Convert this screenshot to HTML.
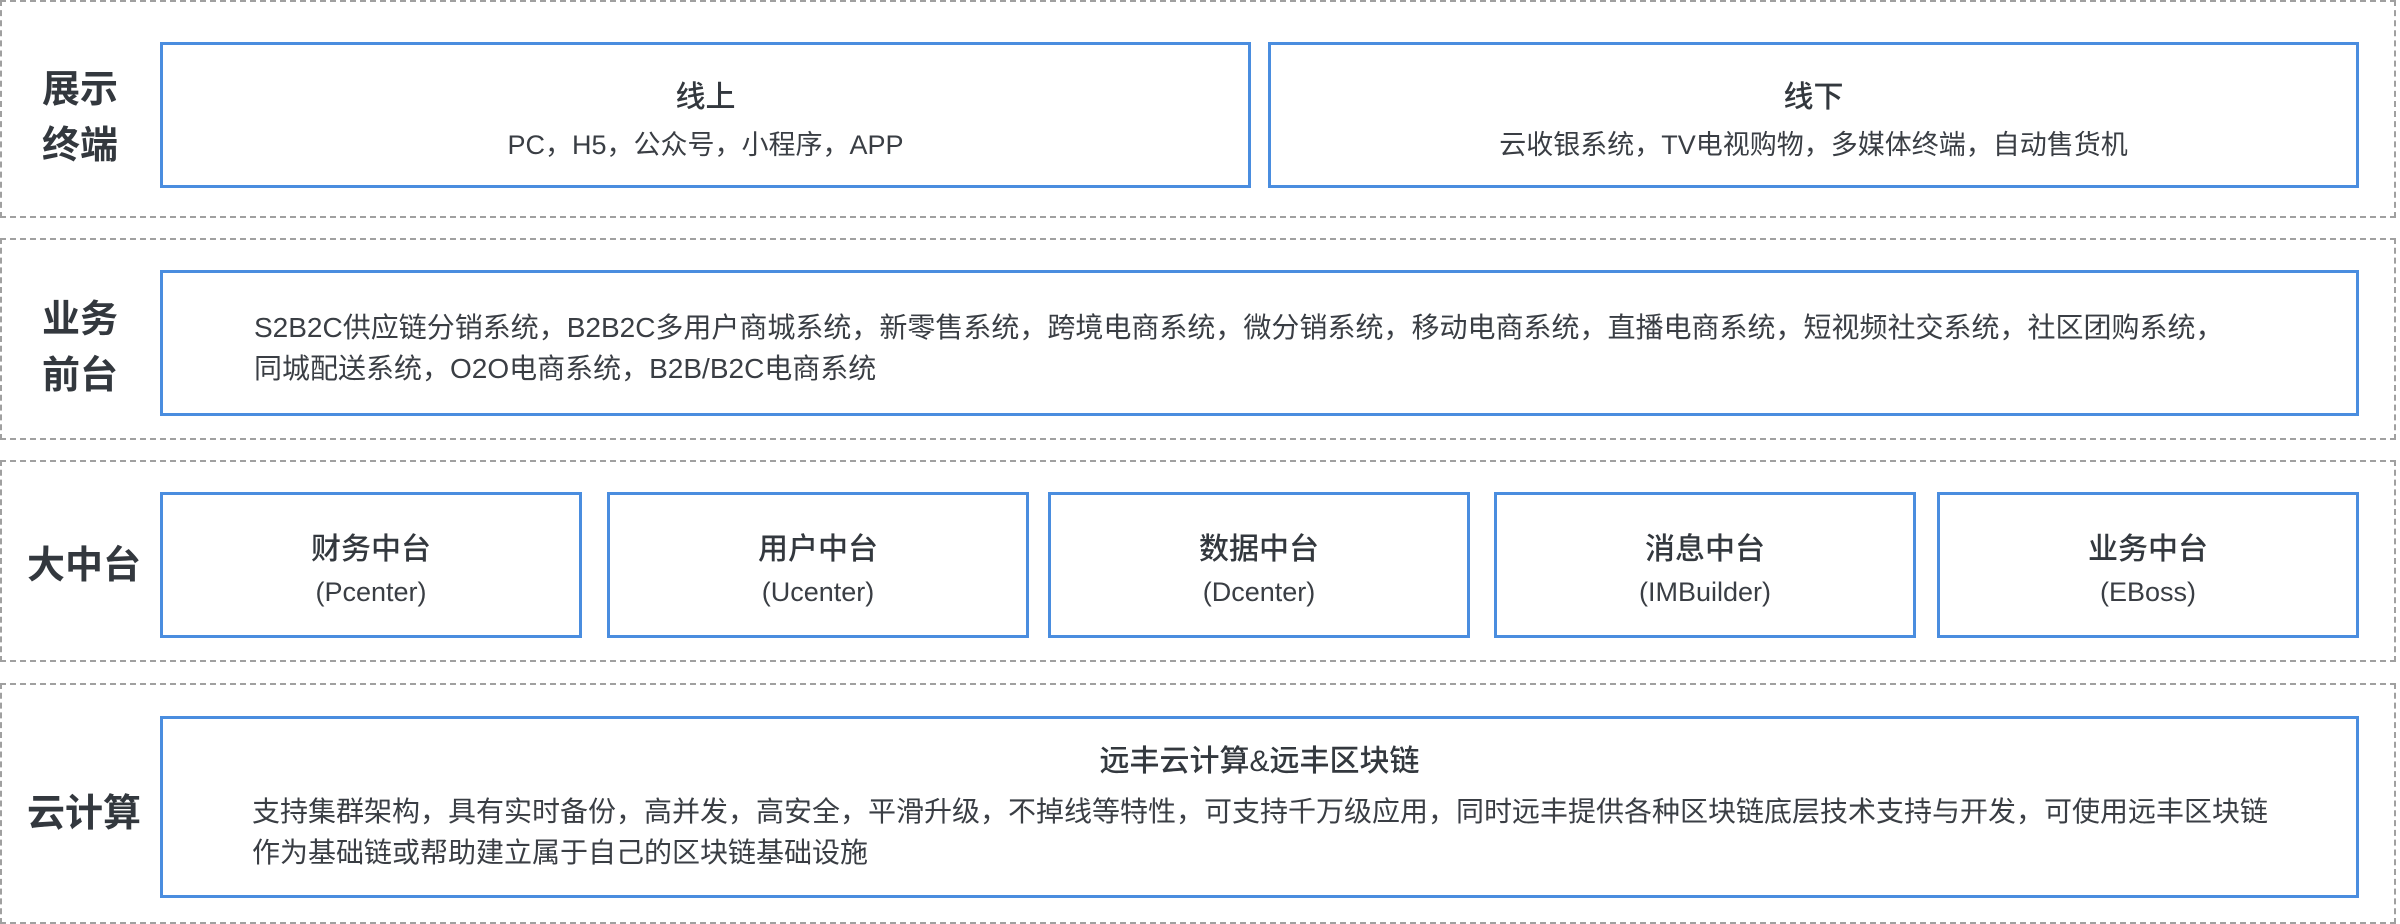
<!DOCTYPE html>
<html><head><meta charset="utf-8"><style>
html,body{margin:0;padding:0;background:#fff;}
body{width:2400px;height:924px;position:relative;overflow:hidden;font-family:"Liberation Sans","Noto Sans CJK SC",sans-serif;color:#3a3e44;}
.sec{position:absolute;left:0;width:2396px;border:2px dashed #a0a0a0;box-sizing:border-box;}
.box{position:absolute;border:3px solid #4a8ddf;box-sizing:border-box;}
.lab{position:absolute;font-weight:bold;font-size:38px;line-height:56px;text-align:center;color:#33383e;}
.t{position:absolute;left:0;right:0;text-align:center;white-space:nowrap;}
.tt{font-size:30px;font-weight:500;color:#33383e;}
.st{font-size:27px;}
.p{position:absolute;font-size:28px;line-height:41px;white-space:nowrap;}
</style></head><body>
<div class="sec" style="top:0;height:218px;"></div>
<div class="sec" style="top:238px;height:202px;"></div>
<div class="sec" style="top:460px;height:202px;"></div>
<div class="sec" style="top:683px;height:241px;"></div>

<div class="lab" style="left:36px;width:88px;top:62px;">展示<br>终端</div>
<div class="box" style="left:160px;top:42px;width:1091px;height:146px;">
 <div class="t tt" style="top:27px;">线上</div>
 <div class="t st" style="top:78px;">PC，H5，公众号，小程序，APP</div>
</div>
<div class="box" style="left:1268px;top:42px;width:1091px;height:146px;">
 <div class="t tt" style="top:27px;">线下</div>
 <div class="t st" style="top:78px;">云收银系统，TV电视购物，多媒体终端，自动售货机</div>
</div>

<div class="lab" style="left:36px;width:88px;top:292px;">业务<br>前台</div>
<div class="box" style="left:160px;top:270px;width:2199px;height:146px;">
 <div class="p" style="left:91px;top:34px;">S2B2C供应链分销系统，B2B2C多用户商城系统，新零售系统，跨境电商系统，微分销系统，移动电商系统，直播电商系统，短视频社交系统，社区团购系统，<br>同城配送系统，O2O电商系统，B2B/B2C电商系统</div>
</div>

<div class="lab" style="left:24px;width:120px;top:538px;">大中台</div>
<div class="box" style="left:160px;top:492px;width:422px;height:146px;"><div class="t tt" style="top:29px;">财务中台</div><div class="t st" style="top:82px;">(Pcenter)</div></div>
<div class="box" style="left:607px;top:492px;width:422px;height:146px;"><div class="t tt" style="top:29px;">用户中台</div><div class="t st" style="top:82px;">(Ucenter)</div></div>
<div class="box" style="left:1048px;top:492px;width:422px;height:146px;"><div class="t tt" style="top:29px;">数据中台</div><div class="t st" style="top:82px;">(Dcenter)</div></div>
<div class="box" style="left:1494px;top:492px;width:422px;height:146px;"><div class="t tt" style="top:29px;">消息中台</div><div class="t st" style="top:82px;">(IMBuilder)</div></div>
<div class="box" style="left:1937px;top:492px;width:422px;height:146px;"><div class="t tt" style="top:29px;">业务中台</div><div class="t st" style="top:82px;">(EBoss)</div></div>

<div class="lab" style="left:24px;width:120px;top:786px;">云计算</div>
<div class="box" style="left:160px;top:716px;width:2199px;height:182px;">
 <div class="t tt" style="top:17px;">远丰云计算&amp;远丰区块链</div>
 <div class="p" style="left:89px;top:72px;">支持集群架构，具有实时备份，高并发，高安全，平滑升级，不掉线等特性，可支持千万级应用，同时远丰提供各种区块链底层技术支持与开发，可使用远丰区块链<br>作为基础链或帮助建立属于自己的区块链基础设施</div>
</div>
</body></html>
